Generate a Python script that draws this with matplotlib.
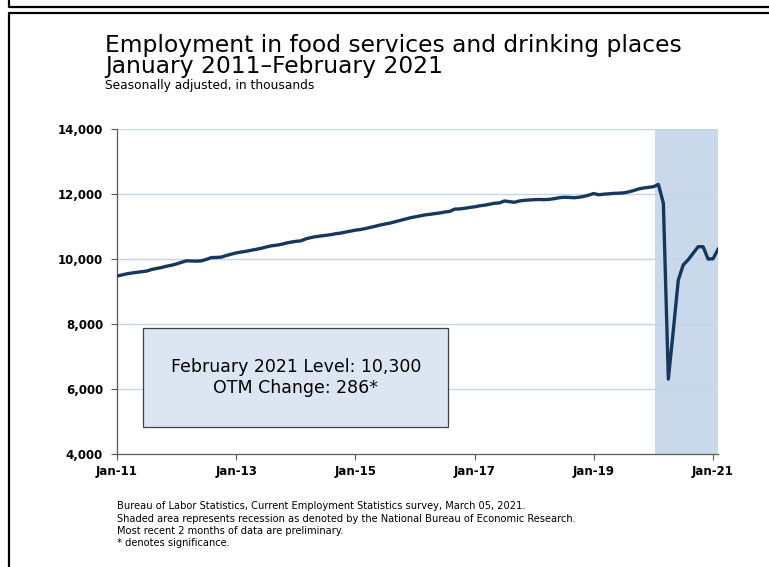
import matplotlib
matplotlib.use("Agg")
import matplotlib.pyplot as plt
from matplotlib.patches import Rectangle
from matplotlib.lines import Line2D

# Food services and drinking places employment, SA, thousands (Jan 2011 - Feb 2021)
emp_2011 = [9476, 9510, 9545, 9570, 9590, 9610, 9630, 9680, 9710, 9740, 9780, 9810]
emp_2012 = [9850, 9900, 9945, 9940, 9935, 9945, 9990, 10045, 10050, 10060, 10110, 10150]
emp_2013 = [10190, 10215, 10240, 10270, 10300, 10330, 10370, 10405, 10425, 10450, 10490, 10520]
emp_2014 = [10545, 10560, 10620, 10660, 10690, 10710, 10730, 10750, 10780, 10800, 10830, 10860]
emp_2015 = [10890, 10910, 10940, 10975, 11010, 11050, 11080, 11110, 11150, 11190, 11230, 11270]
emp_2016 = [11300, 11330, 11360, 11380, 11400, 11420, 11450, 11470, 11540, 11545, 11565, 11590]
emp_2017 = [11610, 11640, 11660, 11690, 11720, 11730, 11790, 11770, 11750, 11790, 11810, 11820]
emp_2018 = [11830, 11835, 11830, 11840, 11860, 11890, 11905, 11900, 11890, 11905, 11930, 11970]
emp_2019 = [12020, 11980, 12000, 12010, 12025, 12030, 12040, 12070, 12110, 12160, 12190, 12210]
emp_2020 = [12230, 12300, 11720, 6300, 7800, 9350, 9820, 9980, 10180, 10380, 10380, 10000]
emp_2021 = [10010, 10300]

employment = (emp_2011 + emp_2012 + emp_2013 + emp_2014 + emp_2015 + emp_2016
              + emp_2017 + emp_2018 + emp_2019 + emp_2020 + emp_2021)
months = list(range(len(employment)))

tick_months = [0, 24, 48, 72, 96, 120]
tick_labels = ["Jan-11", "Jan-13", "Jan-15", "Jan-17", "Jan-19", "Jan-21"]
y_ticks = [4000, 6000, 8000, 10000, 12000, 14000]
recession_start = 108.4  # Feb 2020 onward

LINE = "#17375e"
SHADE = "#c9d8ea"
GRID = "#c3d6ee"

fig = plt.figure(figsize=(7.69, 5.67), dpi=100)
ax = fig.add_axes([0.1521, 0.1998, 0.9337 - 0.1521, 0.772 - 0.1998])

ax.axvspan(recession_start, months[-1], color=SHADE, lw=0, zorder=0)
for v in y_ticks[1:]:
    ax.axhline(v, color=GRID, lw=1.0, zorder=1)
ax.plot(months, employment, color=LINE, lw=2.4, solid_joinstyle="round", zorder=3)

ax.set_xlim(0, months[-1])
ax.set_ylim(4000, 14000)
ax.set_xticks(tick_months)
ax.set_xticklabels(tick_labels)
ax.set_yticks(y_ticks)
ax.set_yticklabels([f"{v:,}" for v in y_ticks])
for lab in ax.get_xticklabels() + ax.get_yticklabels():
    lab.set_fontweight("bold")
    lab.set_fontsize(8.5)
ax.tick_params(axis="both", direction="out", length=4, width=0.8, color="#595959")
ax.tick_params(axis="x", pad=4)
ax.tick_params(axis="y", pad=6)
for s in ["top", "right"]:
    ax.spines[s].set_visible(False)
for s in ["left", "bottom"]:
    ax.spines[s].set_color("#595959")
    ax.spines[s].set_linewidth(0.9)

# level / change box
ax.add_patch(Rectangle((0.0438, 0.0832), 0.5072, 0.3034, transform=ax.transAxes,
                       facecolor="#dce6f2", edgecolor="#404040", lw=0.9, zorder=4))
ax.text(0.2975, 0.268, "February 2021 Level: 10,300", transform=ax.transAxes,
        ha="center", va="center", fontsize=12.5, zorder=5)
ax.text(0.2975, 0.2025, "OTM Change: 286*", transform=ax.transAxes,
        ha="center", va="center", fontsize=12.5, zorder=5)

# titles
fig.text(105 / 769, 1 - 56 / 567,
         "Employment in food services and drinking places\nJanuary 2011\u2013February 2021",
         fontsize=16.8, va="center", ha="left", linespacing=0.93)
fig.text(105 / 769, 1 - 86 / 567, "Seasonally adjusted, in thousands",
         fontsize=8.8, va="center", ha="left")

notes = ["Bureau of Labor Statistics, Current Employment Statistics survey, March 05, 2021.",
         "Shaded area represents recession as denoted by the National Bureau of Economic Research.",
         "Most recent 2 months of data are preliminary.",
         "* denotes significance."]
for i, t in enumerate(notes):
    fig.text(117 / 769, 1 - (506 + i * 12.5) / 567, t, fontsize=7.1,
             va="center", ha="left")

# outer frame lines
def fline(xs, ys):
    fig.add_artist(Line2D([x / 769 for x in xs], [1 - y / 567 for y in ys],
                          color="black", lw=1.6, transform=fig.transFigure))

fline([9, 9, 769], [0, 6.5, 6.5])
fline([9, 9, 769], [567, 12.5, 12.5])

fig.savefig("out.png", dpi=100)
